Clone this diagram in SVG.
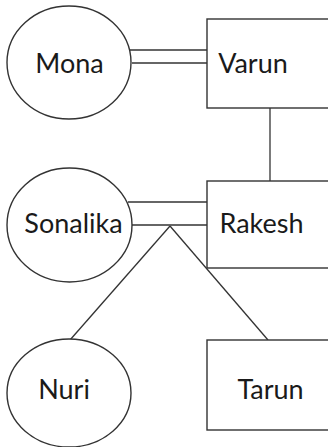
<svg xmlns="http://www.w3.org/2000/svg" width="328" height="447" viewBox="0 0 328 447">
<style>
.shape{fill:#ffffff;stroke:#333333;stroke-width:1.4}
.conn line{stroke:#333333;stroke-width:1.3}
text{font-family:Lato,"Open Sans","Liberation Sans",sans-serif;font-size:27px;fill:#1a1a1a;text-anchor:middle}
</style>
<rect width="328" height="447" fill="#ffffff"/>
<g class="conn" id="connectors">
<line x1="127" y1="50" x2="207" y2="50"/>
<line x1="132" y1="63" x2="207" y2="63"/>
<line x1="270" y1="108" x2="270" y2="181"/>
<line x1="128" y1="202" x2="207" y2="202"/>
<line x1="131" y1="225" x2="207" y2="225"/>
<line x1="170" y1="226" x2="70" y2="340"/>
<line x1="170" y1="226" x2="268" y2="340"/>
</g>
<g id="mona"><ellipse class="shape" cx="69" cy="62.5" rx="62" ry="56.5"/><text x="69.5" y="73">Mona</text></g>
<g id="varun"><rect class="shape" x="207" y="19" width="130" height="89"/><text x="253" y="73">Varun</text></g>
<g id="sonalika"><ellipse class="shape" cx="69.5" cy="225" rx="62.5" ry="57"/><text x="73.5" y="233">Sonalika</text></g>
<g id="rakesh"><rect class="shape" x="207" y="181" width="130" height="87"/><text x="261.5" y="233">Rakesh</text></g>
<g id="nuri"><ellipse class="shape" cx="69" cy="393" rx="62" ry="54"/><text x="64" y="399">Nuri</text></g>
<g id="tarun"><rect class="shape" x="207" y="340" width="130" height="90"/><text x="270.5" y="399">Tarun</text></g>
</svg>
